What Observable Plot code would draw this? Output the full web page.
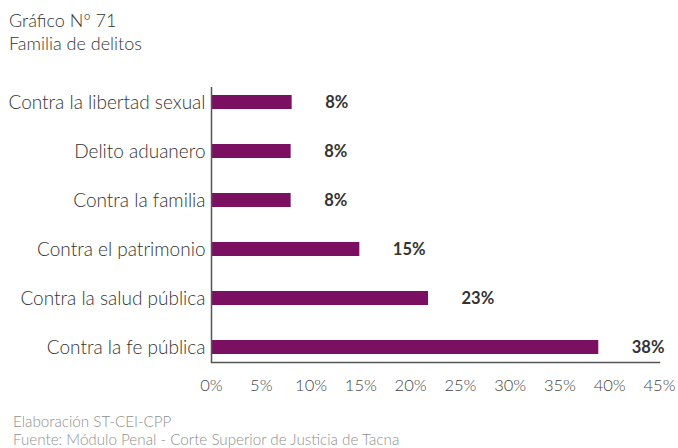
<!DOCTYPE html>
<html>
<head>
<meta charset="utf-8">
<script src="https://cdn.jsdelivr.net/npm/d3@7"></script>
<script src="https://cdn.jsdelivr.net/npm/@observablehq/plot@0.6"></script>
<style>
  html, body { margin: 0; padding: 0; background: #fff; }
  body { width: 678px; height: 448px; overflow: hidden; font-family: Lato, "Open Sans", sans-serif; }
  #title { height: 60px; box-sizing: border-box; padding: 9px 0 0 9px; font-size: 18px; font-weight: 300; line-height: 23px; color: #333; }
  #chart { height: 345px; }
  #caption { padding: 7px 0 0 13px; font-size: 15.2px; font-weight: 300; line-height: 18px; color: #8f8f8f; }
</style>
</head>
<body>
<div id="title">Gráfico Nº 71<br>Familia de delitos</div>
<div id="chart"></div>
<div id="caption">Elaboración ST-CEI-CPP<br>Fuente: Módulo Penal - Corte Superior de Justicia de Tacna</div>
<script>
const categories = [
  "Contra la libertad sexual",
  "Delito aduanero",
  "Contra la familia",
  "Contra el patrimonio",
  "Contra la salud pública",
  "Contra la fe pública"
];
const values = [8.1, 8.0, 8.0, 14.9, 21.8, 38.9];
const valueLabels = ["8%", "8%", "8%", "15%", "23%", "38%"];
const xTicks = [0, 5, 10, 15, 20, 25, 30, 35, 40, 45];

const data = categories.map((c, i) => ({category: c, value: values[i], label: valueLabels[i]}));

const plot = Plot.plot({
  width: 678,
  height: 345,
  marginLeft: 211,
  marginRight: 19,
  marginTop: 27,
  marginBottom: 43,
  style: {fontFamily: "Lato, 'Open Sans', sans-serif", color: "#333", background: "#fff"},
  x: {domain: [0, 45], ticks: xTicks, tickFormat: d => d + "%", label: null},
  y: {domain: categories, paddingInner: 0.717, paddingOuter: 0.142, label: null},
  marks: [
    Plot.barX(data, {x: "value", y: "category", fill: "#7b1062"}),
    Plot.text(data, {x: "value", y: "category", text: "label", textAnchor: "start", dx: 33, fontWeight: "bold", fontSize: 16.5, fill: "#333"}),
    Plot.ruleX([0], {stroke: "#555", strokeWidth: 1.5}),
    Plot.frame({anchor: "bottom", stroke: "#555", strokeWidth: 1.5}),
    Plot.axisX({ticks: xTicks, tickFormat: d => d + "%", tickSize: 0, tickPadding: 16.6, fontSize: 16.5, fontWeight: 300, color: "#444", label: null}),
    Plot.axisY({tickSize: 0, tickPadding: 6, fontSize: 19, fontWeight: 300, color: "#333", label: null})
  ]
});
document.getElementById("chart").appendChild(plot);
</script>
</body>
</html>
